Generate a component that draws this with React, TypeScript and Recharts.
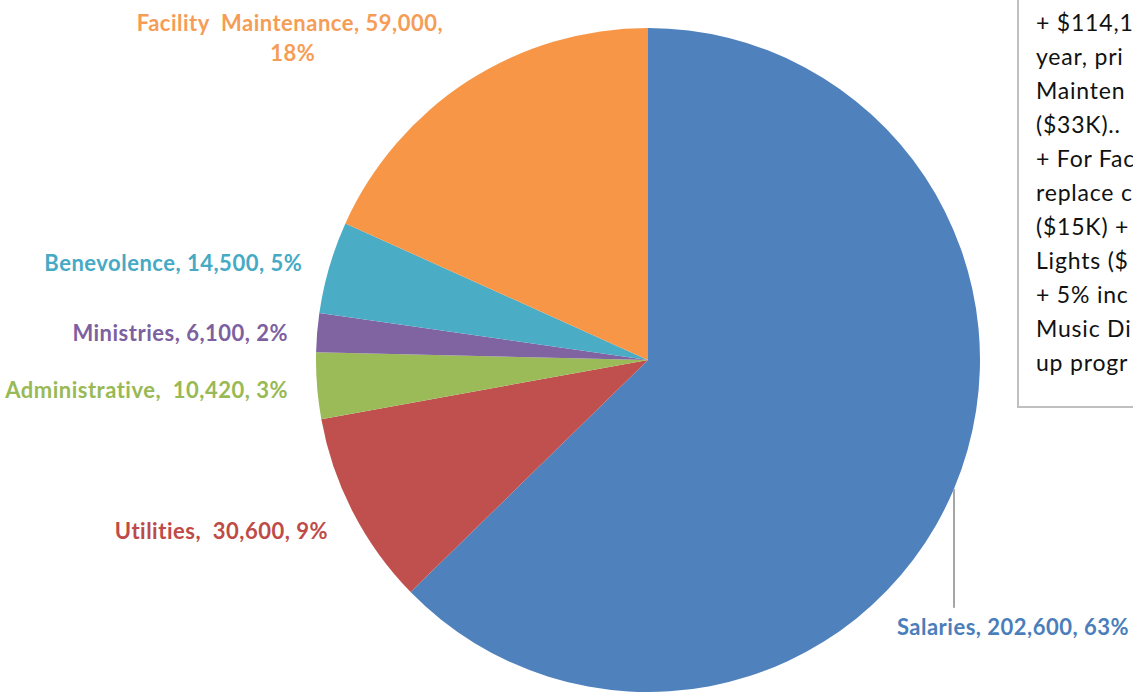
import React from 'react';
import { PieChart, Pie, Cell } from 'recharts';

// budget categories, clockwise from 12 o'clock
const CATEGORIES = ['Salaries', 'Utilities', 'Administrative', 'Ministries', 'Benevolence', 'Facility Maintenance'];
const AMOUNTS = [202600, 30600, 10420, 6100, 14500, 59000];
const PERCENT_LABELS = ['63%', '9%', '3%', '2%', '5%', '18%'];
const LABEL_NAMES = ['Salaries,', 'Utilities, ', 'Administrative, ', 'Ministries,', 'Benevolence,', 'Facility  Maintenance,'];

const NOTE_LINES = [
    '+ $114,1',
    'year, pri',
    'Mainten',
    '($33K)..',
    '+ For Fac',
    'replace c',
    '($15K) +',
    'Lights ($',
    '+ 5% inc',
    'Music Di',
    'up progr',
];

const SLICE_COLORS = ['#4F81BD', '#C0504D', '#9BBB59', '#8064A2', '#4BACC6', '#F79646'];
const LABEL_COLORS = ['#4A7EBB', '#BE4B48', '#98B954', '#7D60A0', '#46AAC5', '#F59D56'];

// label placement relative to the slice's outer edge point
const LABEL_OFFSETS: Record<string, { dx: number; dy: number; anchor: 'start' | 'middle' | 'end' }> = {
    Salaries: { dx: 59, dy: 138, anchor: 'middle' },
    Utilities: { dx: -25, dy: 18, anchor: 'end' },
    Administrative: { dx: -29, dy: 4, anchor: 'end' },
    Ministries: { dx: -29, dy: 0, anchor: 'end' },
    Benevolence: { dx: -27, dy: -5, anchor: 'end' },
    'Facility Maintenance': { dx: -178, dy: -59, anchor: 'middle' },
};

const data = CATEGORIES.map((name, i) => ({ name, value: AMOUNTS[i] }));

const RADIAN = Math.PI / 180;
const FONT = 'Lato, "Open Sans", sans-serif';
const LABEL_STYLE = { whiteSpace: 'pre' as const, letterSpacing: 0.5 };

function renderLabel(props: any) {
    const { cx, cy, midAngle, outerRadius, index } = props;
    const name = CATEGORIES[index];
    const off = LABEL_OFFSETS[name];
    const px = cx + outerRadius * Math.cos(-midAngle * RADIAN);
    const py = cy + outerRadius * Math.sin(-midAngle * RADIAN);
    const x = px + off.dx;
    const y = py + off.dy;
    const color = LABEL_COLORS[index];
    const amount = AMOUNTS[index].toLocaleString('en-US');

    if (name === 'Facility Maintenance') {
        return (
            <text key={name} x={x} y={y} textAnchor="middle" fill={color} fontFamily={FONT} fontWeight={700} fontSize={22} style={LABEL_STYLE}>
                <tspan x={x} dy={0} dominantBaseline="central">{`${LABEL_NAMES[index]} ${amount},`}</tspan>
                <tspan x={x + 3} dy={30} dominantBaseline="central">{PERCENT_LABELS[index]}</tspan>
            </text>
        );
    }

    return (
        <g key={name}>
            {name === 'Salaries' && (
                <line x1={px} y1={py} x2={px} y2={py + 119} stroke="#A6A6A6" strokeWidth={2} />
            )}
            <text
                x={x}
                y={y}
                textAnchor={off.anchor}
                dominantBaseline="central"
                fill={color}
                fontFamily={FONT}
                fontWeight={700}
                fontSize={22}
                style={LABEL_STYLE}
            >
                {`${LABEL_NAMES[index]} ${amount}, ${PERCENT_LABELS[index]}`}
            </text>
        </g>
    );
}

export default function App() {
    return (
        <div style={{ position: 'absolute', left: 0, top: 0, width: 1133, height: 692, background: '#fff', overflow: 'hidden' }}>
            <PieChart width={1133} height={692} margin={{ top: 0, right: 0, bottom: 0, left: 0 }}>
                <Pie
                    data={data}
                    dataKey="value"
                    nameKey="name"
                    cx={648}
                    cy={360}
                    outerRadius={332}
                    startAngle={90}
                    endAngle={-270}
                    stroke="none"
                    label={renderLabel}
                    labelLine={false}
                    isAnimationActive={false}
                >
                    {data.map((_, i) => (
                        <Cell key={i} fill={SLICE_COLORS[i]} />
                    ))}
                </Pie>
            </PieChart>

            {/* Notes box, cut off by the right edge of the slide */}
            <div
                style={{
                    position: 'absolute',
                    left: 1017,
                    top: -10,
                    width: 200,
                    height: 418,
                    border: '2px solid #BFBFBF',
                    boxSizing: 'border-box',
                    fontFamily: FONT,
                    fontSize: 23,
                    letterSpacing: 0.8,
                    color: '#111',
                    lineHeight: '34px',
                    paddingTop: 13,
                    paddingLeft: 17,
                    whiteSpace: 'nowrap',
                }}
            >
                {NOTE_LINES.map((line, i) => (
                    <div key={i}>{line}</div>
                ))}
            </div>
        </div>
    );
}
